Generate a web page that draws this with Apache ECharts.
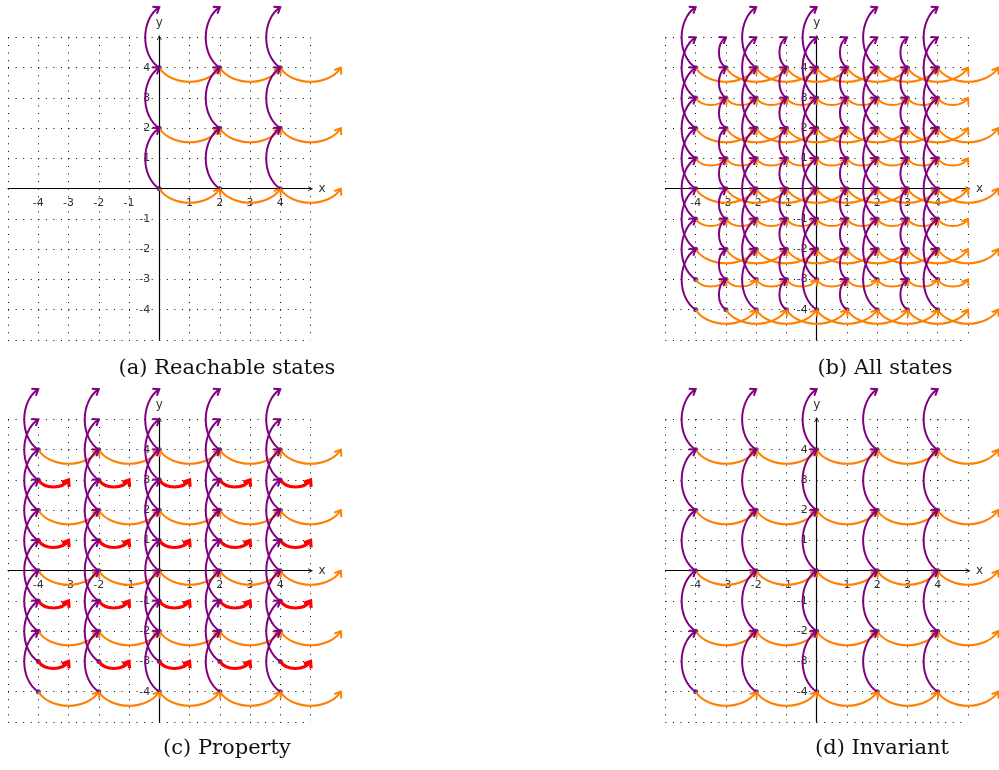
<!DOCTYPE html>
<html><head><meta charset="utf-8">
<script src="https://cdn.jsdelivr.net/npm/echarts@6/dist/echarts.min.js"></script>
<style>html,body{margin:0;padding:0;background:#fff}#c{width:999px;height:770px}</style>
</head><body><div id="c"></div><script>
// ---- data ----
const tickLabels = [-4, -3, -2, -1, 1, 2, 3, 4];
const axisMin = -5, axisMax = 5;
// state sets of each panel (x values, y values)
const reachX = [0, 2, 4];
const reachY = [0, 2, 4];
const allX = [-4, -3, -2, -1, 0, 1, 2, 3, 4];
const allY = [-4, -3, -2, -1, 0, 1, 2, 3, 4];
const propX = [-4, -2, 0, 2, 4];
const propY = [-4, -3, -2, -1, 0, 1, 2, 3, 4];
const invX = [-4, -2, 0, 2, 4];
const invY = [-4, -2, 0, 2, 4];
// transition steps: vertical step by x parity [even, odd], horizontal step by y parity [even, odd]
const upStep = [2, 1];
const rightStep = [2, 1];
const captions = ['(a) Reachable states', '(b) All states', '(c) Property', '(d) Invariant'];

// ---- layout ----
const SIZE = 302.5;
const panels = [
  {left: 8.05, top: 37.45, xs: reachX, ys: reachY, redOdd: false, cap: [227, 369]},
  {left: 665.45, top: 37.45, xs: allX, ys: allY, redOdd: false, cap: [885, 369]},
  {left: 8.05, top: 419.45, xs: propX, ys: propY, redOdd: true, cap: [227, 749]},
  {left: 665.45, top: 419.45, xs: invX, ys: invY, redOdd: false, cap: [882, 749]}
];
const PURPLE = '#800080', ORANGE = '#ff8000', RED = '#ff0000', DOT = '#1c1c78';
const parity = v => Math.abs(v) % 2;

function arcRender(bendSign, color, width) {
  return function (params, api) {
    const p0 = api.coord([api.value(0), api.value(1)]);
    const p1 = api.coord([api.value(2), api.value(3)]);
    const dx = p1[0] - p0[0], dy = p1[1] - p0[1];
    const nx = -dy * bendSign, ny = dx * bendSign;
    const A = 0.2, B = 0.31;
    const c1 = [p0[0] + A * dx + B * nx, p0[1] + A * dy + B * ny];
    const c2 = [p1[0] - A * dx + B * nx, p1[1] - A * dy + B * ny];
    let tx = p1[0] - c2[0], ty = p1[1] - c2[1];
    const L = Math.hypot(tx, ty); tx /= L; ty /= L;
    const hl = 7, ang = 0.65;
    const rot = (vx, vy, a) => [vx * Math.cos(a) - vy * Math.sin(a), vx * Math.sin(a) + vy * Math.cos(a)];
    const b1 = rot(-tx, -ty, ang), b2 = rot(-tx, -ty, -ang);
    return {
      type: 'group', children: [
        {type: 'bezierCurve', shape: {x1: p0[0], y1: p0[1], x2: p1[0], y2: p1[1], cpx1: c1[0], cpy1: c1[1], cpx2: c2[0], cpy2: c2[1]},
          style: {stroke: color, lineWidth: width, fill: 'none'}},
        {type: 'polyline', shape: {points: [[p1[0] + b1[0] * hl, p1[1] + b1[1] * hl], [p1[0], p1[1]], [p1[0] + b2[0] * hl, p1[1] + b2[1] * hl]]},
          style: {stroke: color, lineWidth: width, fill: 'none', lineJoin: 'miter'}}
      ]
    };
  };
}

const grid = [], xAxis = [], yAxis = [], series = [], graphic = [];
const chevron = 'path://M0,10 L5,0 L10,10 L8.4,10 L5,3.2 L1.6,10 Z';
const labelStyle = {color: '#333', fontSize: 11, fontFamily: 'DejaVu Sans'};
const fmt = v => tickLabels.indexOf(v) >= 0 ? String(v) : '';
panels.forEach((p, i) => {
  grid.push({left: p.left, top: p.top, width: SIZE, height: SIZE, containLabel: false, outerBoundsMode: 'none'});
  const common = {
    gridIndex: i, type: 'value', min: axisMin, max: axisMax, interval: 1,
    offset: -SIZE / 2,
    axisLine: {onZero: false, lineStyle: {color: '#000', width: 1.2}, symbol: ['none', chevron], symbolSize: [8, 5]},
    axisTick: {show: false},
    splitLine: {show: true, lineStyle: {type: [1, 6.56], color: '#000', width: 1}},
    nameTextStyle: {color: '#333', fontSize: 12, fontFamily: 'DejaVu Sans'}
  };
  xAxis.push(Object.assign({}, common, {position: 'bottom', name: 'x', nameLocation: 'end', nameGap: 8,
    axisLabel: Object.assign({margin: 9, formatter: fmt}, labelStyle)}));
  yAxis.push(Object.assign({}, common, {position: 'left', name: 'y', nameLocation: 'end', nameGap: 9,
    axisLabel: Object.assign({margin: 9, formatter: fmt}, labelStyle)}));

  const up = [], right = [], red = [], dots = [];
  p.xs.forEach(x => p.ys.forEach(y => {
    dots.push([x, y]);
    up.push([x, y, x, y + upStep[parity(x)]]);
    const r = [x, y, x + rightStep[parity(y)], y];
    if (p.redOdd && parity(y) === 1) red.push(r); else right.push(r);
  }));
  series.push({type: 'scatter', xAxisIndex: i, yAxisIndex: i, data: dots, symbolSize: 5,
    itemStyle: {color: DOT}, z: 1, silent: true});
  series.push({type: 'custom', xAxisIndex: i, yAxisIndex: i, data: right, encode: {x: [0, 2], y: [1, 3]},
    renderItem: arcRender(1, ORANGE, 2), z: 2, silent: true});
  if (red.length) series.push({type: 'custom', xAxisIndex: i, yAxisIndex: i, data: red, encode: {x: [0, 2], y: [1, 3]},
    renderItem: arcRender(1, RED, 3.2), z: 3, silent: true});
  series.push({type: 'custom', xAxisIndex: i, yAxisIndex: i, data: up, encode: {x: [0, 2], y: [1, 3]},
    renderItem: arcRender(-1, PURPLE, 2), z: 4, silent: true});
  graphic.push({type: 'text', x: p.cap[0], y: p.cap[1],
    style: {text: captions[i], font: '21px "DejaVu Serif"', fill: '#111', align: 'center', verticalAlign: 'middle',
      textAlign: 'center', textVerticalAlign: 'middle'}});
});

const chart = echarts.init(document.getElementById('c'), null, {renderer: 'canvas'});
chart.setOption({animation: false, backgroundColor: '#fff', grid, xAxis, yAxis, series, graphic});
</script></body></html>
